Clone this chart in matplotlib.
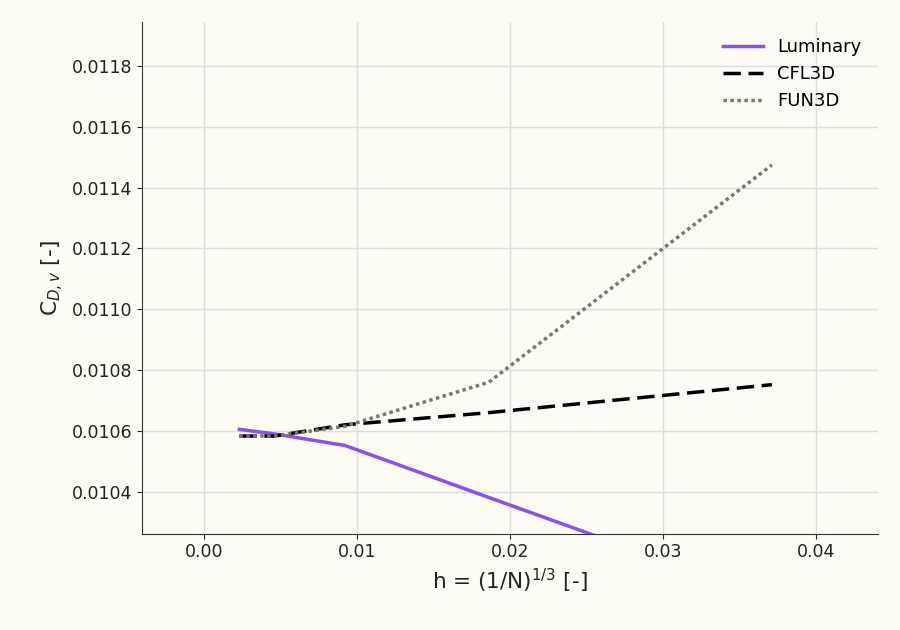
import matplotlib
matplotlib.use("Agg")
import matplotlib.pyplot as plt

h = [0.0023, 0.0046, 0.0092, 0.0186, 0.0371]
luminary = [0.010605, 0.010590, 0.010552, 0.010381, 0.010046]
cfl3d = [0.010583, 0.010583, 0.010620, 0.010660, 0.010752]
fun3d = [0.010583, 0.010583, 0.010615, 0.010760, 0.011475]

bg = "#fcfbf4"
fig, ax = plt.subplots(figsize=(9, 6.3), dpi=100, facecolor=bg)
ax.set_facecolor(bg)
fig.subplots_adjust(left=0.158, right=0.975, top=0.965, bottom=0.153)

ax.plot(h, luminary, color="#8c4ff5", lw=2.5, label="Luminary")
ax.plot(h, cfl3d, color="black", lw=2.5, ls=(0, (5, 2.2)), label="CFL3D")
ax.plot(h, fun3d, color="#777777", lw=2.5, ls=(0, (1, 1)), label="FUN3D")

ax.set_xlim(-0.00405, 0.0440)
ax.set_ylim(0.010262, 0.011945)
ax.set_xticks([0.0, 0.01, 0.02, 0.03, 0.04])
ax.set_yticks([0.0104, 0.0106, 0.0108, 0.0110, 0.0112, 0.0114, 0.0116, 0.0118])
ax.set_yticklabels([f"{v:.4f}" for v in ax.get_yticks()])
ax.set_xticklabels([f"{v:.2f}" for v in ax.get_xticks()])
ax.grid(True, color="#dddddd", lw=1)
ax.set_axisbelow(True)
for s in ["top", "right"]:
    ax.spines[s].set_visible(False)
for s in ["left", "bottom"]:
    ax.spines[s].set_color("#333333")
ax.tick_params(labelsize=12.5, colors="#222222")
ax.set_xlabel(r"h = (1/N)$^{1/3}$ [-]", fontsize=15.5, color="#222222")
ax.set_ylabel(r"C$_{D,v}$ [-]", fontsize=15.5, color="#222222")
ax.legend(loc="upper right", frameon=False, fontsize=13, handlelength=2.2)
fig.savefig("out.png", dpi=100, facecolor=bg)
